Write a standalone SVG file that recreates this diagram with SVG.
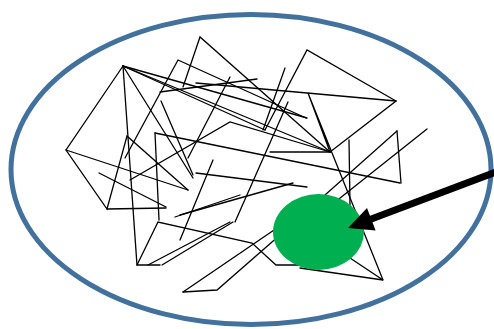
<svg xmlns="http://www.w3.org/2000/svg" width="494" height="329" viewBox="0 0 494 329">
<style>
.sc{stroke:#000;stroke-width:1.3;fill:none;stroke-linecap:round}
</style>
<rect width="494" height="329" fill="#fff"/>
<ellipse id="boundary" cx="251" cy="169.5" rx="240" ry="155" fill="none" stroke="#41719C" stroke-width="5"/>
<g id="scribble" class="sc">
<path d="M123,66 L66,150 L107,209 L127,136 L188,190"/>
<path d="M107,209 L166,208"/>
<path d="M99,173 L166,207"/>
<path d="M66,150 L188,190"/>
<path d="M123,66 L137,265 L160,265"/>
<path d="M137,265 L158,222 L252,243 L276,265 L300,265"/>
<path d="M162,265 L233,222"/>
<path d="M148,265 L230,222"/>
<path d="M123,66 L193,178"/>
<path d="M161,101 L193,175"/>
<path d="M123,66 L265,130"/>
<path d="M123,66 L307,118"/>
<path d="M123,66 L330,152"/>
<path d="M125,158 L178,60 L306,118"/>
<path d="M183,87 L200,37 L330,152"/>
<path d="M160,92 L257,79"/>
<path d="M196,83 L396,101"/>
<path d="M265,130 L307,50 L396,101 L330,152"/>
<path d="M330,152 L308,93 L383,280"/>
<path d="M230,77 L188,158"/>
<path d="M285,68 L263,130"/>
<path d="M288,102 L235,222"/>
<path d="M130,180 L230,122 L330,152"/>
<path d="M155,133 L400,183"/>
<path d="M155,133 L159,220"/>
<path d="M397,131 L401,183"/>
<path d="M397,131 L325,195"/>
<path d="M427,129 L325,210"/>
<path d="M349,140 L350,205"/>
<path d="M270,152 L330,152"/>
<path d="M196,173 L307,187"/>
<path d="M180,215 L293,183"/>
<path d="M183,292 L217,290 L280,235"/>
<path d="M183,292 L277,228"/>
<path d="M175,217 L240,195"/>
<path d="M213,160 L180,240"/>
<path d="M300,268 L383,280 L350,258"/>
</g>
<ellipse id="target" cx="318.5" cy="232" rx="45.5" ry="38" fill="#00B050"/>
<g id="connectors">
<line x1="496" y1="172" x2="370" y2="219.5" stroke="#000" stroke-width="7"/>
<polygon points="348,228 367,208 375.6,230.4" fill="#000"/>
</g>
</svg>
